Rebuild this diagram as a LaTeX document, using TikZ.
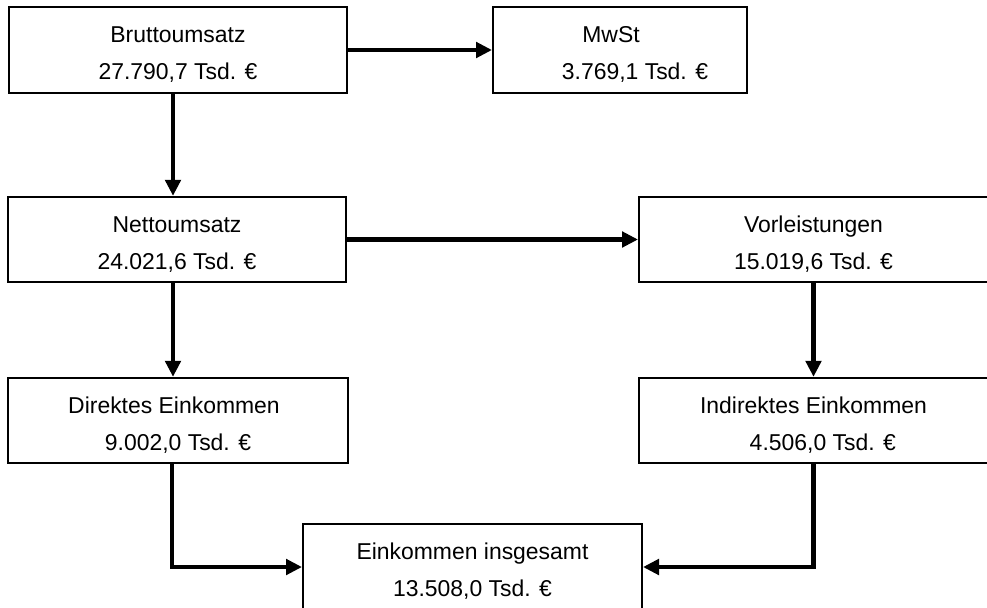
\documentclass[tikz,border=0pt]{standalone}
\usepackage{fontspec}
\setmainfont{Liberation Sans}
\usetikzlibrary{arrows.meta}
% invisible strut that lowers the two text lines a little
\newcommand{\toplift}{\rule{0pt}{19pt}}

\begin{document}
\begin{tikzpicture}[x=0.75pt, y=-0.75pt,
  box/.style={draw, line width=1.5pt, rectangle, inner sep=0pt, align=center,
    font=\fontsize{17.2}{27.75}\selectfont, minimum height=64pt},
  arr/.style={line width=3.6pt, -{Triangle[length=12pt,width=11.5pt]}}]
  \clip (0,0) rectangle (987,607);
  \fill[white] (0,0) rectangle (987,607);

  % value boxes
  \node[box, minimum width=253.5pt] (brutto) at (178,50)
    {\toplift Bruttoumsatz\\27.790,7 Tsd. €};
  \node[box, minimum width=190.5pt] (mwst) at (620,50)
    {\toplift MwSt\hspace*{13.5pt}\\\hspace*{22.5pt}3.769,1 Tsd. €};
  \node[box, minimum width=253.5pt] (netto) at (177,239.5)
    {\toplift Nettoumsatz\\24.021,6 Tsd. €};
  \node[box, minimum width=261.75pt] (vorl) at (813.5,239.5)
    {\toplift Vorleistungen\\15.019,6 Tsd. €};
  \node[box, minimum width=255pt] (dir) at (178,420.5)
    {\toplift Direktes Einkommen\hspace*{6pt}\\9.002,0 Tsd. €};
  \node[box, minimum width=261.75pt] (indir) at (813.5,420.5)
    {\toplift Indirektes Einkommen\\\hspace*{14pt}4.506,0 Tsd. €};
  \node[box, minimum width=254.25pt] (ges) at (472.5,567)
    {\toplift Einkommen insgesamt\\13.508,0 Tsd. €};

  % flows
  \draw[arr] (brutto.east) -- (mwst.west);
  \draw[arr] ([xshift=-3.75pt]brutto.south) -- ([xshift=-3.75pt]brutto.south |- netto.north);
  \draw[arr] (netto.east) -- (netto.east -| vorl.west);
  \draw[arr] ([xshift=-3pt]netto.south) -- ([xshift=-3pt]netto.south |- dir.north);
  \draw[arr] (vorl.south) -- (indir.north);
  \draw[arr] ([xshift=-4.5pt]dir.south) |- (ges.west);
  \draw[arr] (indir.south) |- (ges.east);
\end{tikzpicture}
\end{document}
